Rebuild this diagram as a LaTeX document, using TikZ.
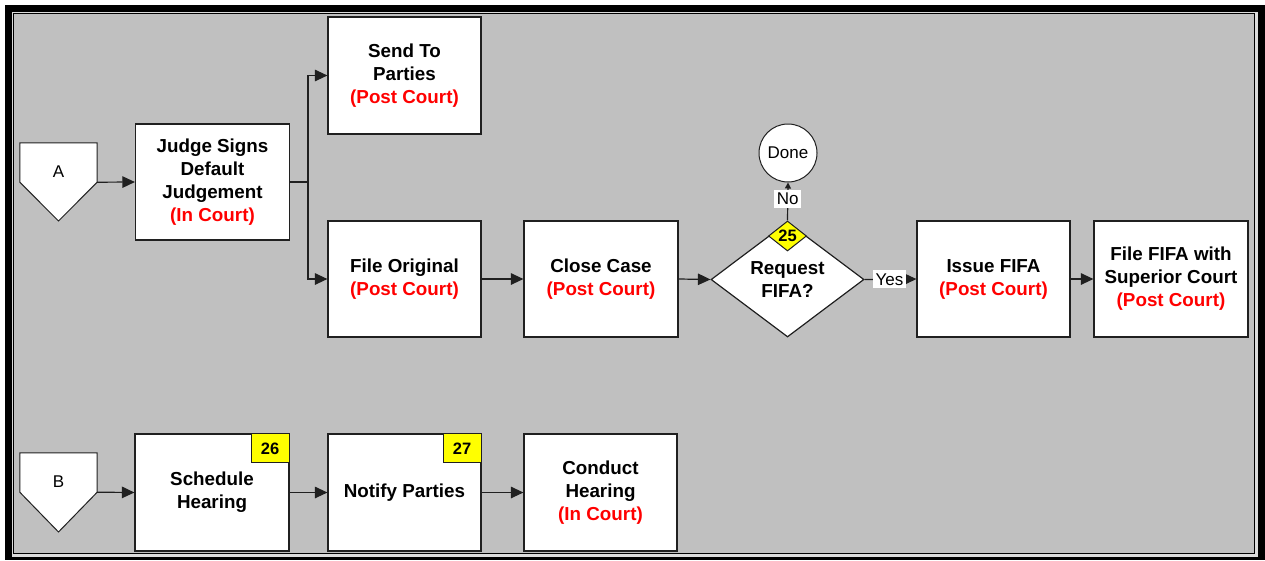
\documentclass[tikz,border=0pt]{standalone}
\usepackage{fontspec}
\setmainfont{Liberation Sans}
\usetikzlibrary{arrows.meta,shapes.geometric}
\definecolor{bgray}{HTML}{C0C0C0}
\definecolor{lgray}{HTML}{DCDCDC}
\definecolor{pred}{HTML}{FF0000}
\definecolor{pyel}{HTML}{FFFF00}
\definecolor{lin}{HTML}{202020}
\newcommand{\bigbf}{\fontsize{18.8}{23}\selectfont\bfseries}
\newcommand{\smreg}{\fontsize{17}{19}\selectfont}
\newcommand{\smbf}{\fontsize{16.5}{19}\selectfont\bfseries}
\newcommand{\rd}[1]{\textcolor{pred}{#1}}
\begin{document}
\begin{tikzpicture}[x=1pt,y=-1pt,
  stepbox/.style={rectangle, draw=lin, line width=1.2pt, fill=white, inner sep=0pt,
    minimum width=153pt, minimum height=116pt, align=center, font=\bigbf},
  decbox/.style={diamond, draw=lin, line width=1.2pt, fill=white, inner sep=0pt,
    minimum width=153pt, minimum height=115pt, align=center, font=\bigbf},
  badgebox/.style={rectangle, draw=lin, line width=1pt, fill=pyel, inner sep=0pt,
    minimum width=38pt, minimum height=29pt, font=\smbf},
  badgedia/.style={diamond, draw=lin, line width=1pt, fill=pyel, inner sep=0pt,
    minimum width=38pt, minimum height=28pt, font=\smbf},
  offrect/.style={rectangle, inner sep=0pt, minimum width=77pt, minimum height=39pt},
  offshape/.style={draw=lin, line width=1pt, fill=white},
  endcirc/.style={circle, draw=lin, line width=1pt, fill=white, inner sep=0pt,
    minimum size=58pt, font=\smreg},
  lbl/.style={fill=white, inner xsep=2.5pt, inner ysep=3pt, font=\smreg},
  txt/.style={font=\smreg, inner sep=0pt},
  conn/.style={draw=lin, line width=1.2pt, -{Triangle[length=12.5pt,width=11.5pt]}},
  connsm/.style={draw=lin, line width=1.2pt, -{Triangle[length=6pt,width=6pt]}}
]
\useasboundingbox (0,0) rectangle (1265,560);
% frame
\fill[white] (0,0) rectangle (1265,560);
\fill[black] (5,5) rectangle (1265,560);
\fill[lgray] (12,12) rectangle (1257.5,556.5);
\fill[black] (13,13) rectangle (1255,554);
\fill[bgray] (14.3,14.3) rectangle (1253.8,552.8);

% off-page connector A
\node[offrect] (offA) at (58.5,162.5) {};
\coordinate (tipA) at (58.5,221);
\path[offshape] (offA.north west) -- (offA.north east) -- (offA.south east) -- (tipA) -- (offA.south west) -- cycle;
\node[txt] (labA) at (58.5,172) {A};

% top row
\node[stepbox, minimum width=154pt] (judge) at (212.5,182) {Judge Signs\\Default\\Judgement\\\rd{(In Court)}};
\node[stepbox, minimum height=117pt] (send) at (404.5,75.5) {Send To\\Parties\\\rd{(Post Court)}};
\node[stepbox] (forig) at (404.5,279) {File Original\\\rd{(Post Court)}};
\node[stepbox, minimum width=154pt] (close) at (601,279) {Close Case\\\rd{(Post Court)}};
\node[decbox] (dec) at (787.5,279.5) {Request\\FIFA?};
\node[badgedia] (b25) at (787.5,236) {25};
\node[endcirc] (done) at (788,153) {Done};
\node[stepbox] (issue) at (993.5,279) {Issue FIFA\\\rd{(Post Court)}};
\node[stepbox, minimum width=154pt] (ffifa) at (1171,279) {File FIFA with\\Superior Court\\\rd{(Post Court)}};

\draw[conn] (offA.south east) -- (judge.west);
\coordinate (fork) at (308,182);
\draw[conn] (judge.east) -- (fork) |- (send.west);
\draw[conn] (judge.east) -- (fork) |- (forig.west);
\draw[conn] (forig.east) -- (close.west);
\draw[conn] (close.east) -- (dec.west);
\draw[connsm] (b25.north) -- (done.south) node[lbl, pos=0.57] (no) {No};
\draw[conn] (dec.east) -- (issue.west) node[lbl, pos=0.48] (yes) {Yes};
\draw[conn] (issue.east) -- (ffifa.west);

% off-page connector B
\node[offrect] (offB) at (58.5,472.5) {};
\coordinate (tipB) at (58.5,532);
\path[offshape] (offB.north west) -- (offB.north east) -- (offB.south east) -- (tipB) -- (offB.south west) -- cycle;
\node[txt] (labB) at (58.5,482) {B};

% bottom row
\node[stepbox, minimum width=154pt, minimum height=117pt] (sched) at (212,492.5) {Schedule\\Hearing};
\node[badgebox, anchor=north east] (b26) at (sched.north east) {26};
\node[stepbox, minimum height=117pt] (notify) at (404.5,492.5) {Notify Parties};
\node[badgebox, anchor=north east] (b27) at (notify.north east) {27};
\node[stepbox, minimum height=117pt] (conduct) at (600.5,492.5) {Conduct\\Hearing\\\rd{(In Court)}};

\draw[conn] (offB.south east) -- (sched.west);
\draw[conn] (sched.east) -- (notify.west);
\draw[conn] (notify.east) -- (conduct.west);
\end{tikzpicture}
\end{document}
